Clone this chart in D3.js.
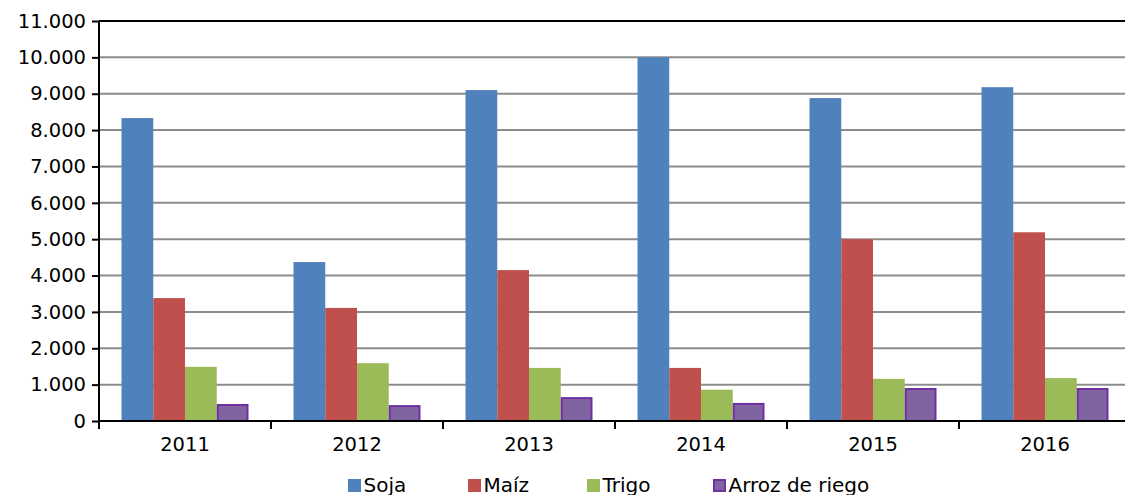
<!DOCTYPE html>
<html><head><meta charset="utf-8">
<script src="https://cdn.jsdelivr.net/npm/d3@7/dist/d3.min.js"></script>
<style>body{margin:0;background:#fff}svg{display:block}text{font-family:"DejaVu Sans",Verdana,sans-serif;fill:#000}</style>
</head><body><svg id="c" width="1125" height="495"></svg>
<script>
const years = ["2011","2012","2013","2014","2015","2016"];
const seriesNames = ["Soja","Maíz","Trigo","Arroz de riego"];
const soja  = [8330, 4370, 9100, 10000, 8880, 9180];
const maiz  = [3380, 3110, 4150, 1460, 5000, 5190];
const trigo = [1490, 1590, 1460, 860, 1160, 1180];
const arroz = [440, 410, 630, 470, 880, 880];
const yTicks = [0,1000,2000,3000,4000,5000,6000,7000,8000,9000,10000,11000];
const colors = ["#4f81bd","#c0504d","#9bbb59","#8064a2"];
const strokes = [null,null,null,"#7030a0"];
const values = [soja, maiz, trigo, arroz];

const svg = d3.select("#c");
const L=99, T=21, B=421, R=1131;
const x = d3.scaleBand().domain(years).range([L,R]).paddingInner(0).paddingOuter(0);
const x1 = d3.scaleBand().domain(seriesNames).range([22.5, x.bandwidth()-22.5]);
const y = d3.scaleLinear().domain([0,11000]).range([B,T]);
const fmt = v => d3.format(",")(v).replace(/,/g,".");

// gridlines
svg.append("g").selectAll("line").data(yTicks.filter(t=>t>0)).join("line")
  .attr("x1",L).attr("x2",1125).attr("y1",d=>y(d)).attr("y2",d=>y(d))
  .attr("stroke",d=>d===11000?"#000":"#8c8c8c").attr("stroke-width",2);

// bars
const g = svg.append("g");
seriesNames.forEach((s,i)=>{
  g.append("g").selectAll("rect").data(years.map((yr,j)=>({yr,v:values[i][j]}))).join("rect")
    .attr("x",d=>x(d.yr)+x1(s)+(strokes[i]?1:0))
    .attr("width",x1.bandwidth()-(strokes[i]?2:0))
    .attr("y",d=>y(d.v))
    .attr("height",d=>B-y(d.v))
    .attr("fill",colors[i])
    .attr("stroke",strokes[i]||"none").attr("stroke-width",2);
});

// y axis
const ya = svg.append("g").attr("transform",`translate(${L},0)`)
  .call(d3.axisLeft(y).tickValues(yTicks).tickFormat(fmt).tickSize(7).tickPadding(6));
ya.select(".domain").attr("stroke","#000").attr("stroke-width",2).attr("d",`M0,${T}V${B}`);
ya.selectAll(".tick line").attr("stroke","#000").attr("stroke-width",2);
ya.selectAll(".tick text").attr("font-size",19.5).attr("font-family","DejaVu Sans").attr("fill","#000");

// x axis
const xa = svg.append("g").attr("transform",`translate(0,${B})`)
  .call(d3.axisBottom(x).tickSize(0).tickPadding(16));
xa.select(".domain").attr("stroke","#000").attr("stroke-width",2).attr("d",`M${L},0H1125`);
xa.selectAll(".tick text").attr("font-size",19.5).attr("font-family","DejaVu Sans").attr("fill","#000");
svg.append("g").selectAll("line").data(years.concat(["end"])).join("line")
  .attr("x1",(d,i)=>L+i*x.bandwidth()).attr("x2",(d,i)=>L+i*x.bandwidth())
  .attr("y1",B).attr("y2",B+8).attr("stroke","#000").attr("stroke-width",2);

// legend
const legX = [348, 468, 587, 713];
const lg = svg.append("g");
seriesNames.forEach((s,i)=>{
  lg.append("rect").attr("x",legX[i]+(strokes[i]?1:0)).attr("y",479+(strokes[i]?1:0))
    .attr("width",strokes[i]?11:13).attr("height",strokes[i]?11:13)
    .attr("fill",colors[i]).attr("stroke",strokes[i]||"none").attr("stroke-width",2);
  lg.append("text").attr("x",legX[i]+15.5).attr("y",492).attr("font-size",20).text(s);
});
</script></body></html>
